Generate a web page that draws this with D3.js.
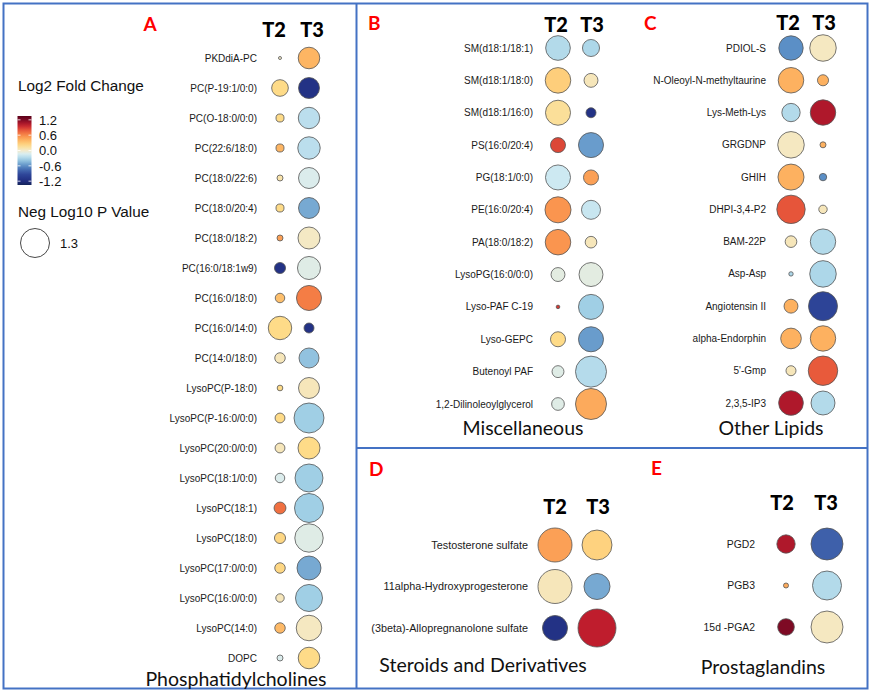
<!DOCTYPE html>
<html><head><meta charset="utf-8">
<script src="https://cdn.jsdelivr.net/npm/d3@7"></script>
<style>body{margin:0;background:#fff}svg{display:block}</style>
</head><body>
<script>
// ---------------- DATA ----------------
const timepoints = ["T2", "T3"];
const colorTicks = [1.2, 0.6, 0.0, -0.6, -1.2];
const sizeLegendValues = [1.3];

const namesA = ["PKDdiA-PC","PC(P-19:1/0:0)","PC(O-18:0/0:0)","PC(22:6/18:0)","PC(18:0/22:6)","PC(18:0/20:4)","PC(18:0/18:2)","PC(16:0/18:1w9)","PC(16:0/18:0)","PC(16:0/14:0)","PC(14:0/18:0)","LysoPC(P-18:0)","LysoPC(P-16:0/0:0)","LysoPC(20:0/0:0)","LysoPC(18:1/0:0)","LysoPC(18:1)","LysoPC(18:0)","LysoPC(17:0/0:0)","LysoPC(16:0/0:0)","LysoPC(14:0)","DOPC"];
const fcA_T2 = [0.0, 0.2, 0.2, 0.4, 0.1, 0.2, 0.5, -1.15, 0.35, 0.2, 0.05, 0.2, 0.2, 0.05, -0.12, 0.7, 0.22, 0.22, 0.05, 0.38, -0.12];
const pA_T2  = [0.014, 0.43, 0.10, 0.10, 0.056, 0.10, 0.056, 0.19, 0.14, 0.85, 0.17, 0.05, 0.15, 0.15, 0.14, 0.22, 0.19, 0.17, 0.11, 0.17, 0.056];
const fcA_T3 = [0.4, -1.15, -0.25, -0.25, -0.12, -0.5, 0.02, -0.1, 0.65, -1.15, -0.4, 0.05, -0.35, 0.2, -0.35, -0.35, -0.1, -0.5, -0.35, 0.03, 0.2];
const pA_T3  = [0.72, 0.68, 0.71, 0.78, 0.68, 0.68, 0.75, 0.82, 0.97, 0.155, 0.62, 0.68, 1.39, 0.75, 1.21, 1.30, 1.25, 0.89, 1.13, 1.01, 0.72];

const namesB = ["SM(d18:1/18:1)","SM(d18:1/18:0)","SM(d18:1/16:0)","PS(16:0/20:4)","PG(18:1/0:0)","PE(16:0/20:4)","PA(18:0/18:2)","LysoPG(16:0/0:0)","Lyso-PAF C-19","Lyso-GEPC","Butenoyl PAF","1,2-Dilinoleoylglycerol"];
const fcB_T2 = [-0.28, 0.27, 0.15, 0.85, -0.18, 0.55, 0.55, -0.08, 0.9, 0.2, -0.1, -0.1];
const pB_T2  = [0.94, 1.01, 0.97, 0.35, 0.97, 1.05, 1.01, 0.30, 0.02, 0.35, 0.22, 0.25];
const fcB_T3 = [-0.3, 0.05, -1.15, -0.55, 0.5, -0.2, 0.05, -0.08, -0.35, -0.55, -0.27, 0.45];
const pB_T3  = [0.45, 0.30, 0.155, 0.97, 0.35, 0.56, 0.21, 0.89, 0.97, 0.97, 1.49, 1.49];

const namesC = ["PDIOL-S","N-Oleoyl-N-methyltaurine","Lys-Meth-Lys","GRGDNP","GHIH","DHPI-3,4-P2","BAM-22P","Asp-Asp","Angiotensin II","alpha-Endorphin","5'-Gmp","2,3,5-IP3"];
const fcC_T2 = [-0.6, 0.42, -0.28, 0.03, 0.42, 0.8, 0.05, -0.3, 0.42, 0.42, 0.05, 1.05];
const pC_T2  = [0.92, 1.01, 0.52, 1.09, 1.05, 1.25, 0.21, 0.03, 0.30, 0.66, 0.155, 0.94];
const fcC_T3 = [0.03, 0.42, 1.05, 0.42, -0.6, 0.05, -0.28, -0.3, -0.95, 0.42, 0.78, -0.28];
const pC_T3  = [1.09, 0.19, 1.0, 0.056, 0.085, 0.11, 1.0, 1.09, 1.30, 1.0, 1.34, 0.89];

const namesD = ["Testosterone sulfate","11alpha-Hydroxyprogesterone","(3beta)-Allopregnanolone sulfate"];
const fcD_T2 = [0.5, 0.05, -1.15];
const pD_T2  = [1.79, 1.79, 0.97];
const fcD_T3 = [0.25, -0.5, 1.0];
const pD_T3  = [1.39, 1.05, 2.23];

const namesE = ["PGD2","PGB3","15d -PGA2"];
const fcE_T2 = [1.05, 0.45, 1.2];
const pE_T2  = [0.52, 0.039, 0.43];
const fcE_T3 = [-0.8, -0.28, 0.03];
const pE_T3  = [1.58, 1.30, 1.58];

// ---------------- SCALES ----------------
const color = d3.scaleLinear()
  .domain([-1.35, -1.2, -0.9, -0.6, -0.35, -0.15, 0, 0.2, 0.4, 0.6, 0.8, 1.0, 1.2, 1.35])
  .range(["#142458","#202d80","#30499c","#5b8fc6","#a0cfe5","#d5edf4","#f3eacb","#fedb88","#fdb563","#f98a48","#e6553a","#bf1d2d","#7e0a24","#5a0018"])
  .clamp(true);
const size = d3.scaleSqrt().domain([0, 1.3]).range([0, 14.5]);

const W = 872, H = 693;
const svg = d3.select("body").append("svg").attr("width", W).attr("height", H);

const LABEL_FONT = "'Liberation Sans', Arial, sans-serif";
const HEAD_FONT = "Lato, 'Open Sans', sans-serif";

// Borders
const border = "#4472c4";
svg.append("rect").attr("x", 3.5).attr("y", 3.5).attr("width", 864).attr("height", 685)
  .attr("fill", "none").attr("stroke", border).attr("stroke-width", 2);
svg.append("line").attr("x1", 356.5).attr("x2", 356.5).attr("y1", 3).attr("y2", 689)
  .attr("stroke", border).attr("stroke-width", 2);
svg.append("line").attr("x1", 356).attr("x2", 868).attr("y1", 448).attr("y2", 448)
  .attr("stroke", border).attr("stroke-width", 2);

// ---------------- PANELS ----------------
const panels = [
  {letter:"A", lx:150, ly:31, anchorL:"middle", names:namesA, fc2:fcA_T2, p2:pA_T2, fc3:fcA_T3, p3:pA_T3, fs:10,
   y0:58, y1:658, labelX:257, cx:[280,309], hx:[274,312], hy:37, title:"Phosphatidylcholines", tx:236, ty:686},
  {letter:"B", lx:368, ly:30, anchorL:"start", names:namesB, fc2:fcB_T2, p2:pB_T2, fc3:fcB_T3, p3:pB_T3, fs:10,
   y0:48, y1:404, labelX:533, cx:[558,591], hx:[556,592], hy:32, title:"Miscellaneous", tx:523, ty:435},
  {letter:"C", lx:644, ly:30, anchorL:"start", names:namesC, fc2:fcC_T2, p2:pC_T2, fc3:fcC_T3, p3:pC_T3, fs:10,
   y0:48, y1:403, labelX:766, cx:[791,823], hx:[788,824], hy:30, title:"Other Lipids", tx:771, ty:435},
  {letter:"D", lx:369, ly:476, anchorL:"start", names:namesD, fc2:fcD_T2, p2:pD_T2, fc3:fcD_T3, p3:pD_T3, fs:10.8,
   y0:545, y1:628, labelX:528, cx:[555,597], hx:[555,598], hy:514, title:"Steroids and Derivatives", tx:483, ty:672},
  {letter:"E", lx:651, ly:475, anchorL:"start", names:namesE, fc2:fcE_T2, p2:pE_T2, fc3:fcE_T3, p3:pE_T3, fs:10.4,
   y0:544, y1:627, labelX:755, cx:[786,827], hx:[782,826], hy:510, title:"Prostaglandins", tx:763, ty:674}
];

panels.forEach(P => {
  const g = svg.append("g");
  const y = d3.scalePoint().domain(P.names).range([P.y0, P.y1]);
  const x = d3.scalePoint().domain(timepoints).range(P.cx);
  const hxs = d3.scalePoint().domain(timepoints).range(P.hx);

  g.append("text").attr("x", P.lx).attr("y", P.ly).attr("text-anchor", P.anchorL)
    .attr("font-family", HEAD_FONT).attr("font-weight", 700).attr("font-size", 19)
    .attr("fill", "#ff0000").text(P.letter);

  g.selectAll(".hdr").data(timepoints).join("text")
    .attr("x", d => hxs(d)).attr("y", P.hy).attr("text-anchor", "middle")
    .attr("font-family", HEAD_FONT).attr("font-weight", 900).attr("font-size", 20)
    .attr("fill", "#000").text(d => d);

  g.selectAll(".lab").data(P.names).join("text")
    .attr("x", P.labelX).attr("y", d => y(d)).attr("dy", "0.35em")
    .attr("text-anchor", "end").attr("font-family", LABEL_FONT).attr("font-size", P.fs)
    .attr("fill", "#1a1a1a").text(d => d);

  const pts = [];
  P.names.forEach((n, i) => {
    pts.push({name:n, t:"T2", fc:P.fc2[i], p:P.p2[i]});
    pts.push({name:n, t:"T3", fc:P.fc3[i], p:P.p3[i]});
  });
  g.selectAll("circle").data(pts).join("circle")
    .attr("cx", d => x(d.t)).attr("cy", d => y(d.name))
    .attr("r", d => size(d.p))
    .attr("fill", d => color(d.fc))
    .attr("stroke", "#555").attr("stroke-width", 0.8);

  g.append("text").attr("x", P.tx).attr("y", P.ty).attr("text-anchor", "middle")
    .attr("font-family", HEAD_FONT).attr("font-size", 19.5).attr("fill", "#111").text(P.title);
});

// ---------------- LEGENDS ----------------
const leg = svg.append("g");
leg.append("text").attr("x", 18).attr("y", 91).attr("font-family", LABEL_FONT)
  .attr("font-size", 15.3).attr("fill", "#111").text("Log2 Fold Change");

const defs = svg.append("defs");
const grad = defs.append("linearGradient").attr("id", "cbar")
  .attr("x1", 0).attr("x2", 0).attr("y1", 0).attr("y2", 1);
const barTop = 116, barBot = 185, barX = 17.5, barW = 14;
const barScale = d3.scaleLinear().domain([1.35, -1.35]).range([barTop, barBot]);
d3.range(0, 21).forEach(i => {
  const v = 1.35 - i * 2.7 / 20;
  grad.append("stop").attr("offset", (i / 20 * 100) + "%").attr("stop-color", color(v));
});
leg.append("rect").attr("x", barX).attr("y", barTop).attr("width", barW)
  .attr("height", barBot - barTop).attr("fill", "url(#cbar)");
colorTicks.forEach(v => {
  const yy = barScale(v);
  leg.append("line").attr("x1", barX).attr("x2", barX + 3).attr("y1", yy).attr("y2", yy)
    .attr("stroke", "#fff").attr("stroke-width", 0.8);
  leg.append("line").attr("x1", barX + barW - 3).attr("x2", barX + barW).attr("y1", yy).attr("y2", yy)
    .attr("stroke", "#fff").attr("stroke-width", 0.8);
  leg.append("text").attr("x", 39).attr("y", yy).attr("dy", "0.36em")
    .attr("font-family", LABEL_FONT).attr("font-size", 13).attr("fill", "#111")
    .text(d3.format(".1f")(v).replace("−", "-"));
});

leg.append("text").attr("x", 18).attr("y", 217).attr("font-family", LABEL_FONT)
  .attr("font-size", 15.3).attr("fill", "#111").text("Neg Log10 P Value");
sizeLegendValues.forEach(v => {
  leg.append("circle").attr("cx", 35).attr("cy", 243).attr("r", size(v))
    .attr("fill", "#fff").attr("stroke", "#333").attr("stroke-width", 0.9);
  leg.append("text").attr("x", 60).attr("y", 243).attr("dy", "0.36em")
    .attr("font-family", LABEL_FONT).attr("font-size", 13).attr("fill", "#111").text(v);
});
</script>
</body></html>
